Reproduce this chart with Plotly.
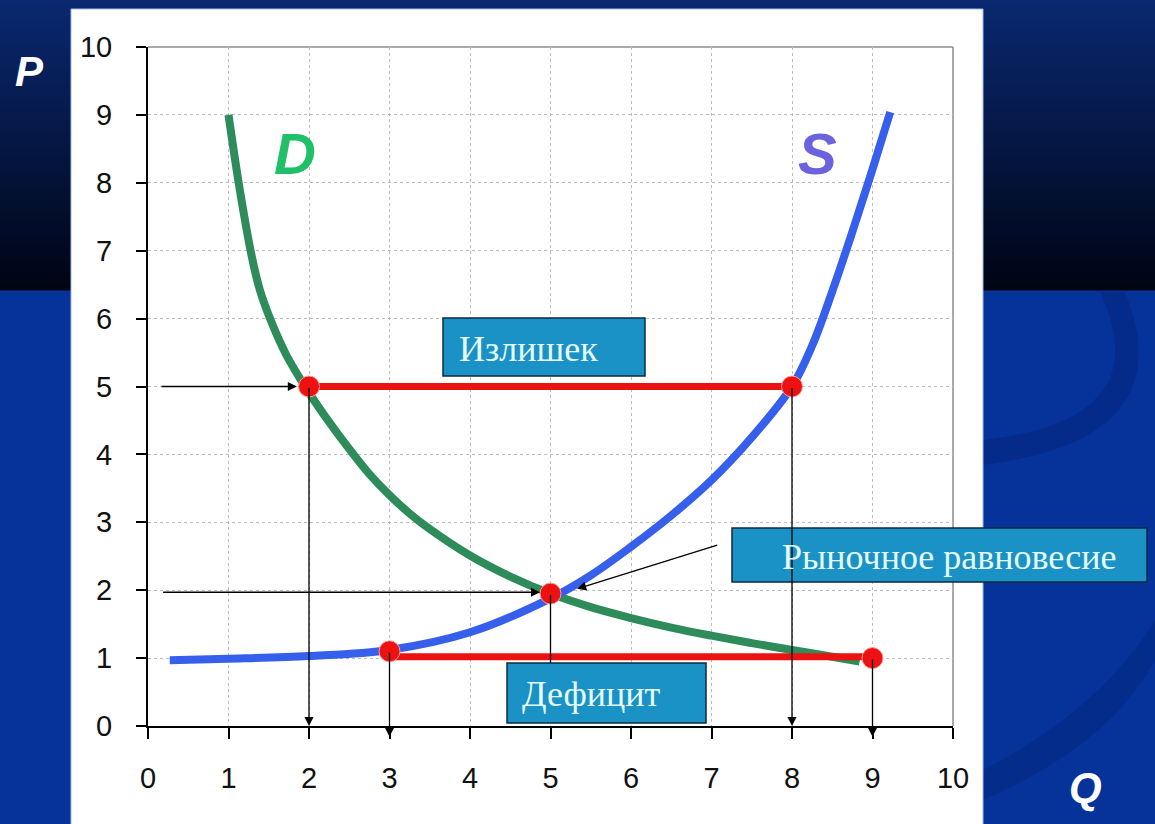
import plotly.graph_objects as go

# ---------------- data ----------------
demand_q = [1.0, 1.14, 1.29, 1.39, 1.54, 1.72, 1.95, 2.2, 2.5, 2.75, 3.0, 3.25, 3.5, 4.0, 4.5, 5.0,
            5.5, 6.0, 6.5, 7.0, 7.5, 8.0, 8.5, 8.84]
demand_p = [9.0, 7.9, 6.91, 6.42, 5.93, 5.46, 5.0, 4.56, 4.08, 3.71, 3.4, 3.13, 2.9, 2.51, 2.2, 1.95,
            1.75, 1.59, 1.45, 1.33, 1.22, 1.12, 1.02, 0.95]

supply_q = [0.27, 1.0, 2.0, 3.0, 4.0, 5.0, 5.5, 6.0, 6.5, 7.0, 7.5, 8.0, 8.25, 8.5, 8.75, 9.0, 9.22]
supply_p = [0.97, 0.99, 1.03, 1.12, 1.38, 1.88, 2.22, 2.64, 3.1, 3.62, 4.25, 5.0, 5.6, 6.4, 7.28, 8.2, 9.04]

surplus_q = [2, 8]
surplus_p = [5.0, 5.0]
shortage_q = [3, 9]
shortage_p = [1.02, 1.02]

point_q = [2, 8, 5, 3, 9]
point_p = [5.0, 5.0, 1.95, 1.1, 1.0]

ticks = list(range(0, 11))
tick_labels = [str(t) for t in ticks]

label_surplus = "Излишек"
label_equil = "Рыночное равновесие"
label_deficit = "Дефицит"

# ---------------- geometry helpers (pixel -> paper) ----------------
L, R, T, B = 148, 202, 47, 98
W, H = 1155, 824
PW, PH = W - L - R, H - T - B


def xp(px):
    return (px - L) / PW


def yp(py):
    return (H - B - py) / PH


fig = go.Figure()

fig.add_trace(go.Scatter(x=demand_q, y=demand_p, mode="lines",
                         line=dict(color="#2e8b5a", width=8, shape="spline", smoothing=1.0),
                         hoverinfo="skip", showlegend=False))
fig.add_trace(go.Scatter(x=supply_q, y=supply_p, mode="lines",
                         line=dict(color="#3660ec", width=8, shape="spline", smoothing=1.0),
                         hoverinfo="skip", showlegend=False))
fig.add_trace(go.Scatter(x=surplus_q, y=surplus_p, mode="lines",
                         line=dict(color="#ec1212", width=7),
                         hoverinfo="skip", showlegend=False))
fig.add_trace(go.Scatter(x=shortage_q, y=shortage_p, mode="lines",
                         line=dict(color="#ec1212", width=7),
                         hoverinfo="skip", showlegend=False))
fig.add_trace(go.Scatter(x=point_q, y=point_p, mode="markers",
                         marker=dict(color="#ee1111", size=21, line=dict(color="#ff9a9a", width=1)),
                         cliponaxis=False, hoverinfo="skip", showlegend=False))

shapes = []
# background gradient (top band)
N = 48
top_c = (10, 40, 112)
bot_c = (0, 5, 20)
grad_h = 290
for i in range(N):
    t = i / (N - 1)
    c = tuple(int(round(top_c[k] + (bot_c[k] - top_c[k]) * t)) for k in range(3))
    y0 = grad_h * i / N
    y1 = grad_h * (i + 1) / N + 0.6
    shapes.append(dict(type="rect", xref="paper", yref="paper", layer="below",
                       x0=xp(0), x1=xp(W), y0=yp(y1), y1=yp(y0),
                       fillcolor="rgb(%d,%d,%d)" % c, line=dict(width=0)))
# subtle swirl on the right
shapes.append(dict(type="path", xref="paper", yref="paper", layer="below",
                   path="M %f %f Q %f %f %f %f L %f %f Q %f %f %f %f Z" % (
                       xp(1100), yp(292), xp(1160), yp(420), xp(983), yp(440),
                       xp(983), yp(465), xp(1185), yp(440), xp(1125), yp(292)),
                   fillcolor="rgba(0,20,80,0.22)", line=dict(width=0)))
shapes.append(dict(type="path", xref="paper", yref="paper", layer="below",
                   path="M %f %f Q %f %f %f %f L %f %f Q %f %f %f %f Z" % (
                       xp(983), yp(770), xp(1100), yp(710), xp(1155), yp(620),
                       xp(1155), yp(660), xp(1110), yp(745), xp(983), yp(800)),
                   fillcolor="rgba(0,20,80,0.2)", line=dict(width=0)))
# white panel
shapes.append(dict(type="rect", xref="paper", yref="paper", layer="below",
                   x0=xp(71), x1=xp(983), y0=yp(H + 5), y1=yp(9),
                   fillcolor="white", line=dict(color="#9fb8e0", width=1)))
# frame top/right
shapes.append(dict(type="line", xref="paper", yref="paper", layer="below",
                   x0=0, x1=1, y0=1, y1=1, line=dict(color="#8c8c8c", width=1.5)))
shapes.append(dict(type="line", xref="paper", yref="paper", layer="below",
                   x0=1, x1=1, y0=0, y1=1, line=dict(color="#8c8c8c", width=1.5)))

# text boxes
box_fill = "#1a92c6"
box_line = dict(color="#0b2a44", width=1.5)
boxes = [(443, 645, 318, 376), (732, 1147, 528, 582), (507, 706, 663, 723)]
for (bx0, bx1, by0, by1) in boxes:
    shapes.append(dict(type="rect", xref="paper", yref="paper", layer="above",
                       x0=xp(bx0), x1=xp(bx1), y0=yp(by1), y1=yp(by0),
                       fillcolor=box_fill, line=box_line))

annotations = []


def arrow(x, y, ax, ay, head=2, size=1.4):
    annotations.append(dict(x=x, y=y, ax=ax, ay=ay, xref="x", yref="y", axref="x", ayref="y",
                            text="", showarrow=True, arrowhead=head, arrowsize=size,
                            arrowwidth=1.3, arrowcolor="black", standoff=0, startstandoff=0))


# arrows
arrow(1.85, 5.0, 0.15, 5.0)
arrow(4.87, 1.97, 0.17, 1.97)
arrow(2.0, 0.0, 2.0, 5.0)
arrow(3.0, -0.16, 3.0, 1.1)
arrow(8.0, 0.0, 8.0, 5.0)
arrow(9.0, -0.16, 9.0, 1.0)
arrow(5.0, 0.93, 5.0, 1.95, head=0)
arrow(5.33, 2.02, 7.09, 2.67)

# box texts
txt_font = dict(family="Liberation Serif, Times New Roman, serif", size=36, color="#e4fbff")
annotations.append(dict(x=xp(457), y=yp(349), xref="paper", yref="paper", text=label_surplus,
                        showarrow=False, xanchor="left", yanchor="middle", font=txt_font))
annotations.append(dict(x=xp(949), y=yp(557), xref="paper", yref="paper", text=label_equil,
                        showarrow=False, xanchor="center", yanchor="middle", font=txt_font))
annotations.append(dict(x=xp(520), y=yp(694), xref="paper", yref="paper", text=label_deficit,
                        showarrow=False, xanchor="left", yanchor="middle", font=txt_font))

big = "Liberation Sans, Arial, sans-serif"
for (tx, px_, py_, sz, col) in [("D", 295, 153, 58, "#20c068"), ("S", 817, 153, 58, "#6a62de"),
                                ("P", 29, 72, 42, "white"), ("Q", 1085, 788, 42, "white")]:
    annotations.append(dict(x=xp(px_), y=yp(py_), xref="paper", yref="paper",
                            text="<b><i>%s</i></b>" % tx, showarrow=False,
                            xanchor="center", yanchor="middle",
                            font=dict(family=big, size=sz, color=col)))

axis_font = dict(family="Liberation Sans, Arial, sans-serif", size=29, color="#111111")
fig.update_layout(
    width=W, height=H,
    margin=dict(l=L, r=R, t=T, b=B),
    paper_bgcolor="#06339a",
    plot_bgcolor="white",
    shapes=shapes,
    annotations=annotations,
    xaxis=dict(range=[0, 10], tickvals=ticks, ticktext=tick_labels, showgrid=True,
               gridcolor="#bdbdbd", griddash="dot", gridwidth=1,
               showline=True, linecolor="black", linewidth=2,
               ticks="outside", ticklen=11, tickwidth=2, tickcolor="black",
               tickfont=axis_font, ticklabelstandoff=14, zeroline=False, fixedrange=True),
    yaxis=dict(range=[0, 10], tickvals=ticks, ticktext=tick_labels, showgrid=True,
               gridcolor="#bdbdbd", griddash="dot", gridwidth=1,
               showline=True, linecolor="black", linewidth=2,
               ticks="outside", ticklen=10, tickwidth=2, tickcolor="black",
               tickfont=axis_font, ticklabelstandoff=18, zeroline=False, fixedrange=True),
)

fig.write_html("out.html", config={"displayModeBar": False},
               post_script="document.body.style.margin='0';")
